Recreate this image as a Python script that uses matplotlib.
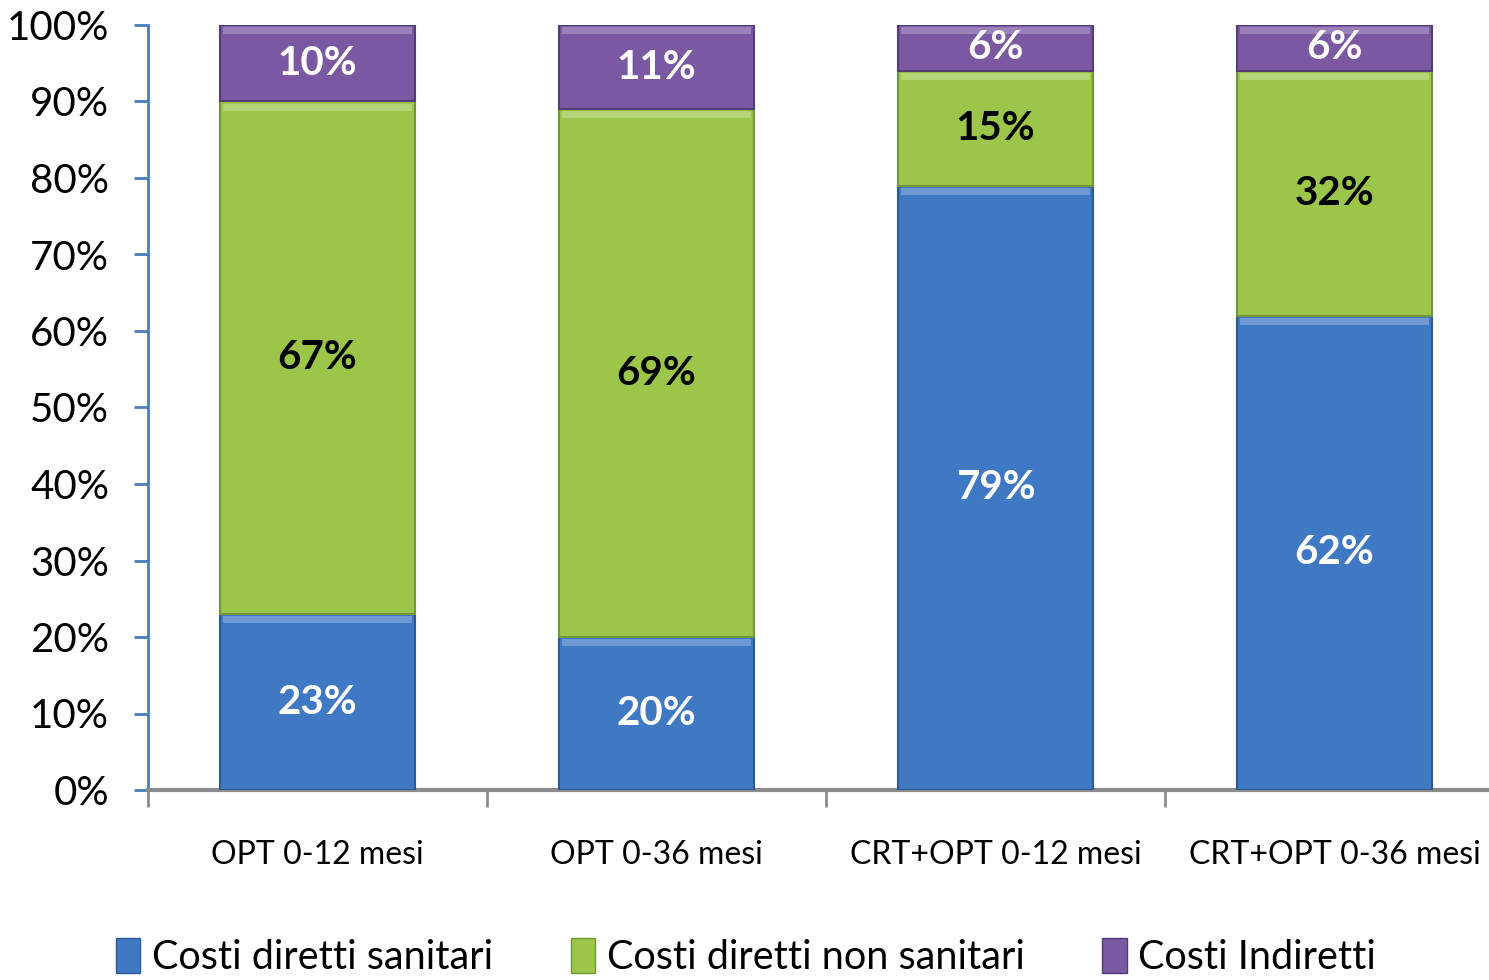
import matplotlib
matplotlib.use("Agg")
import matplotlib.pyplot as plt
import matplotlib.patches as mpatches
import numpy as np

categories = ["OPT 0-12 mesi", "OPT 0-36 mesi", "CRT+OPT 0-12 mesi", "CRT+OPT 0-36 mesi"]
series_names = ["Costi diretti sanitari", "Costi diretti non sanitari", "Costi Indiretti"]
sanitari = [23, 20, 79, 62]
non_sanitari = [67, 69, 15, 32]
indiretti = [10, 11, 6, 6]
y_ticks = [0, 10, 20, 30, 40, 50, 60, 70, 80, 90, 100]

COLORS = ["#3f78c3", "#9cc64a", "#7a58a2"]
EDGES = ["#2c5a94", "#74963a", "#543d75"]
LABEL_COLORS = ["white", "black", "white"]

plt.rcParams["font.family"] = ["Lato", "DejaVu Sans"]

fig = plt.figure(figsize=(14.89, 9.8), dpi=100)
ax = fig.add_axes([148 / 1489, 1 - 790 / 980, (1504 - 148) / 1489, (790 - 25) / 980])

x = np.arange(len(categories))
width = 0.575
bottoms = np.zeros(len(categories))
for i, vals in enumerate([sanitari, non_sanitari, indiretti]):
    vals = np.array(vals, dtype=float)
    ax.bar(x, vals, width, bottom=bottoms, color=COLORS[i], edgecolor=EDGES[i],
           linewidth=1.5, zorder=3)
    # light highlight strip at top of each segment
    ax.bar(x, np.minimum(vals, 0.9), width * 0.97, bottom=bottoms + vals - 1.2,
           color="white", alpha=0.25, linewidth=0, zorder=4)
    for j, (v, b) in enumerate(zip(vals, bottoms)):
        ax.text(x[j], b + v / 2, f"{v:.0f}%", ha="center", va="center",
                fontsize=29, fontweight="bold", color=LABEL_COLORS[i], zorder=5)
    bottoms += vals

ax.set_xlim(-0.5, 3.5)
ax.set_ylim(0, 100)
ax.set_yticks(y_ticks)
ax.set_yticklabels([f"{t}%" for t in y_ticks], fontsize=29)
ax.set_xticks([-0.5, 0.5, 1.5, 2.5])
ax.set_xticklabels([])
ax.set_xticks(x, minor=True)
ax.set_xticklabels(categories, minor=True, fontsize=23)
ax.tick_params(axis="x", which="minor", length=0, pad=36)
ax.tick_params(axis="x", which="major", length=12, width=2, color="#8c8c8c", direction="out")
ax.tick_params(axis="y", length=10, width=2, color="#4a7ebb", direction="out", pad=18)
ax.spines["top"].set_visible(False)
ax.spines["right"].set_visible(False)
ax.spines["left"].set_color("#4a7ebb")
ax.spines["left"].set_linewidth(2)
ax.spines["bottom"].set_color("#8c8c8c")
ax.spines["bottom"].set_linewidth(3)

handles = [mpatches.Patch(facecolor=COLORS[i], edgecolor=EDGES[i], label=series_names[i])
           for i in range(3)]
fig.legend(handles=handles, loc="lower left", bbox_to_anchor=(100 / 1489, -0.012),
           ncol=3, frameon=False, fontsize=28.5, handlelength=0.62, handleheight=1.0,
           handletextpad=0.3, columnspacing=1.95, borderaxespad=0)

fig.savefig("out.png", dpi=100)
